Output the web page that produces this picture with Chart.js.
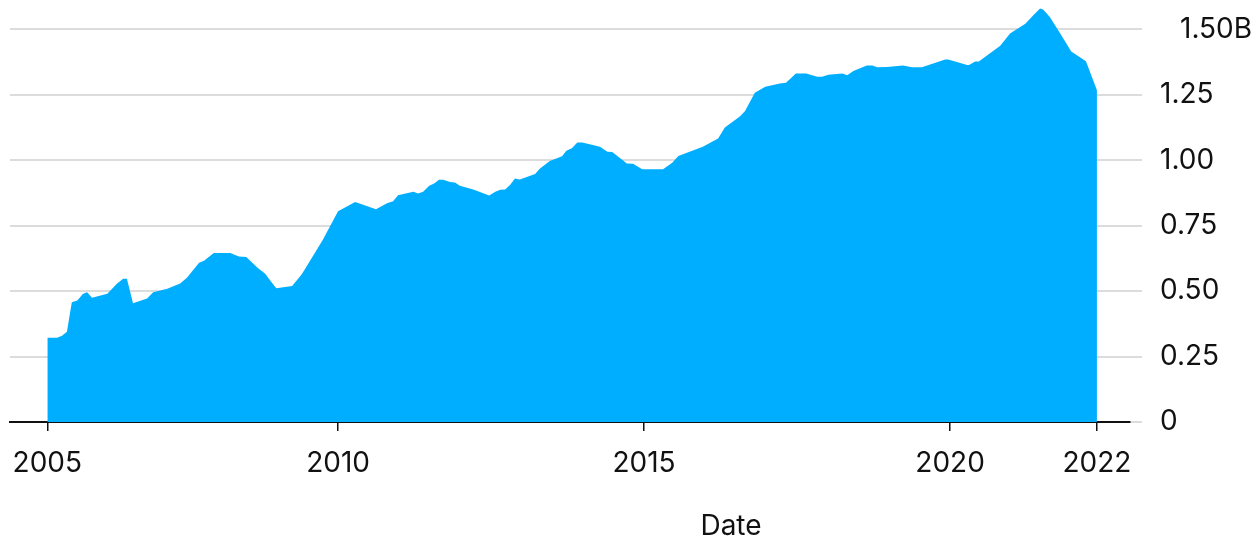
<!DOCTYPE html>
<html>
<head>
<meta charset="utf-8">
<script src="https://cdn.jsdelivr.net/npm/chart.js@4/dist/chart.umd.min.js"></script>
<style>
  body { margin: 0; background: #fff; }
  #wrap { width: 1256px; height: 540px; }
</style>
</head>
<body>
<div id="wrap"><canvas id="chart" width="1256" height="540"></canvas></div>
<script>
// dates as decimal years, values in billions
const dates = [
  2005.25, 2005.41, 2005.49, 2005.57, 2005.65, 2005.74, 2005.83, 2005.90, 2005.98,
  2006.23, 2006.39, 2006.49, 2006.55, 2006.65, 2006.88, 2006.98,
  2007.21, 2007.42, 2007.53, 2007.73, 2007.81, 2007.97,
  2008.24, 2008.38, 2008.50, 2008.68, 2008.81, 2008.87, 2008.99,
  2009.25, 2009.41, 2009.75,
  2010.00, 2010.28, 2010.62, 2010.80, 2010.90, 2010.98,
  2011.23, 2011.31, 2011.39, 2011.49, 2011.57, 2011.65, 2011.72, 2011.83, 2011.91, 2011.99,
  2012.21, 2012.47, 2012.57, 2012.65, 2012.73, 2012.81, 2012.89, 2012.97,
  2013.22, 2013.30, 2013.46, 2013.66, 2013.73, 2013.82, 2013.91, 2013.99,
  2014.28, 2014.40, 2014.48, 2014.72, 2014.82, 2014.97,
  2015.31, 2015.46, 2015.56, 2015.96,
  2016.21, 2016.32, 2016.57, 2016.65, 2016.81, 2016.98,
  2017.22, 2017.32, 2017.48, 2017.65, 2017.83, 2017.91,
  2018.01, 2018.24, 2018.32, 2018.42, 2018.64, 2018.73, 2018.81, 2018.97,
  2019.23, 2019.38, 2019.54, 2019.92, 2019.97,
  2020.28, 2020.31, 2020.41, 2020.47, 2020.82, 2020.98,
  2021.23, 2021.36, 2021.47, 2021.52, 2021.63, 2021.80, 2021.98,
  2022.22, 2022.40
];
const values = [
  0.322, 0.322, 0.329, 0.345, 0.457, 0.464, 0.489, 0.495, 0.474,
  0.490, 0.529, 0.547, 0.547, 0.453, 0.472, 0.495,
  0.509, 0.529, 0.551, 0.608, 0.616, 0.645,
  0.645, 0.632, 0.630, 0.590, 0.566, 0.547, 0.511,
  0.519, 0.565, 0.695,
  0.805, 0.840, 0.812, 0.835, 0.843, 0.866,
  0.879, 0.873, 0.879, 0.902, 0.911, 0.925, 0.925, 0.916, 0.915, 0.902,
  0.888, 0.865, 0.879, 0.887, 0.888, 0.905, 0.930, 0.926,
  0.947, 0.968, 0.997, 1.015, 1.036, 1.045, 1.067, 1.067,
  1.051, 1.032, 1.031, 0.987, 0.986, 0.965,
  0.965, 0.990, 1.016, 1.051,
  1.083, 1.125, 1.168, 1.188, 1.257, 1.280,
  1.293, 1.295, 1.331, 1.331, 1.318, 1.318,
  1.326, 1.331, 1.324, 1.340, 1.361, 1.361, 1.355, 1.356,
  1.361, 1.355, 1.355, 1.384, 1.384,
  1.363, 1.363, 1.377, 1.377, 1.437, 1.484,
  1.521, 1.553, 1.579, 1.575, 1.547, 1.484, 1.415,
  1.378, 1.267
];
const yTicks = [0, 0.25, 0.5, 0.75, 1.0, 1.25, 1.5];
const xTicks = [dates[0], 2010, 2015, 2020, dates[dates.length - 1]];
const unitLabel = '1.50B';
const axisTitle = 'Date';

const FONT = 'Inter, "Liberation Sans", sans-serif';

// top tick carries the unit, and the axis title sits off-centre
const extraText = {
  id: 'extraText',
  afterDraw(chart) {
    const ctx = chart.ctx;
    const y = chart.scales.y;
    ctx.save();
    ctx.font = '28px ' + FONT;
    ctx.fillStyle = '#111';
    ctx.textAlign = 'left';
    ctx.textBaseline = 'middle';
    ctx.fillText(unitLabel, 1180, y.getPixelForValue(yTicks[yTicks.length - 1]));
    ctx.textAlign = 'center';
    ctx.fillText(axisTitle, 731, 527);
    ctx.restore();
  }
};

new Chart(document.getElementById('chart'), {
  type: 'line',
  data: {
    datasets: [{
      data: dates.map((d, i) => ({ x: d, y: values[i] })),
      backgroundColor: '#00aeff',
      borderWidth: 0,
      pointRadius: 0,
      tension: 0,
      fill: 'origin'
    }]
  },
  options: {
    responsive: false,
    animation: false,
    layout: { padding: { left: 10, top: 3, right: 0, bottom: 0 } },
    plugins: { legend: { display: false }, tooltip: { enabled: false } },
    scales: {
      x: {
        type: 'linear',
        min: 2004.64,
        max: 2022.94,
        z: 1,
        afterBuildTicks: s => { s.ticks = xTicks.map(v => ({ value: v })); },
        afterFit: s => { s.height = 118; s.paddingLeft = 0; s.paddingRight = 0; },
        grid: { drawOnChartArea: false, drawTicks: true, tickLength: 9, color: '#111', lineWidth: 1.5 },
        border: { display: true, color: '#111', width: 2 },
        ticks: {
          padding: 16,
          color: '#111',
          font: { family: FONT, size: 28 },
          maxRotation: 0,
          callback: v => String(Math.floor(v))
        }
      },
      y: {
        position: 'right',
        min: 0,
        max: 1.6,
        afterBuildTicks: s => { s.ticks = yTicks.map(v => ({ value: v })); },
        afterFit: s => { s.width = 126; s.paddingTop = 0; s.paddingBottom = 0; },
        grid: { color: '#dcdcdc', lineWidth: 2, tickLength: 12 },
        border: { display: false },
        ticks: {
          padding: 18,
          color: '#111',
          font: { family: FONT, size: 28 },
          callback: v => v === 0 ? '0' : (v === 1.5 ? '' : v.toFixed(2))
        }
      }
    }
  },
  plugins: [extraText]
});
</script>
</body>
</html>
